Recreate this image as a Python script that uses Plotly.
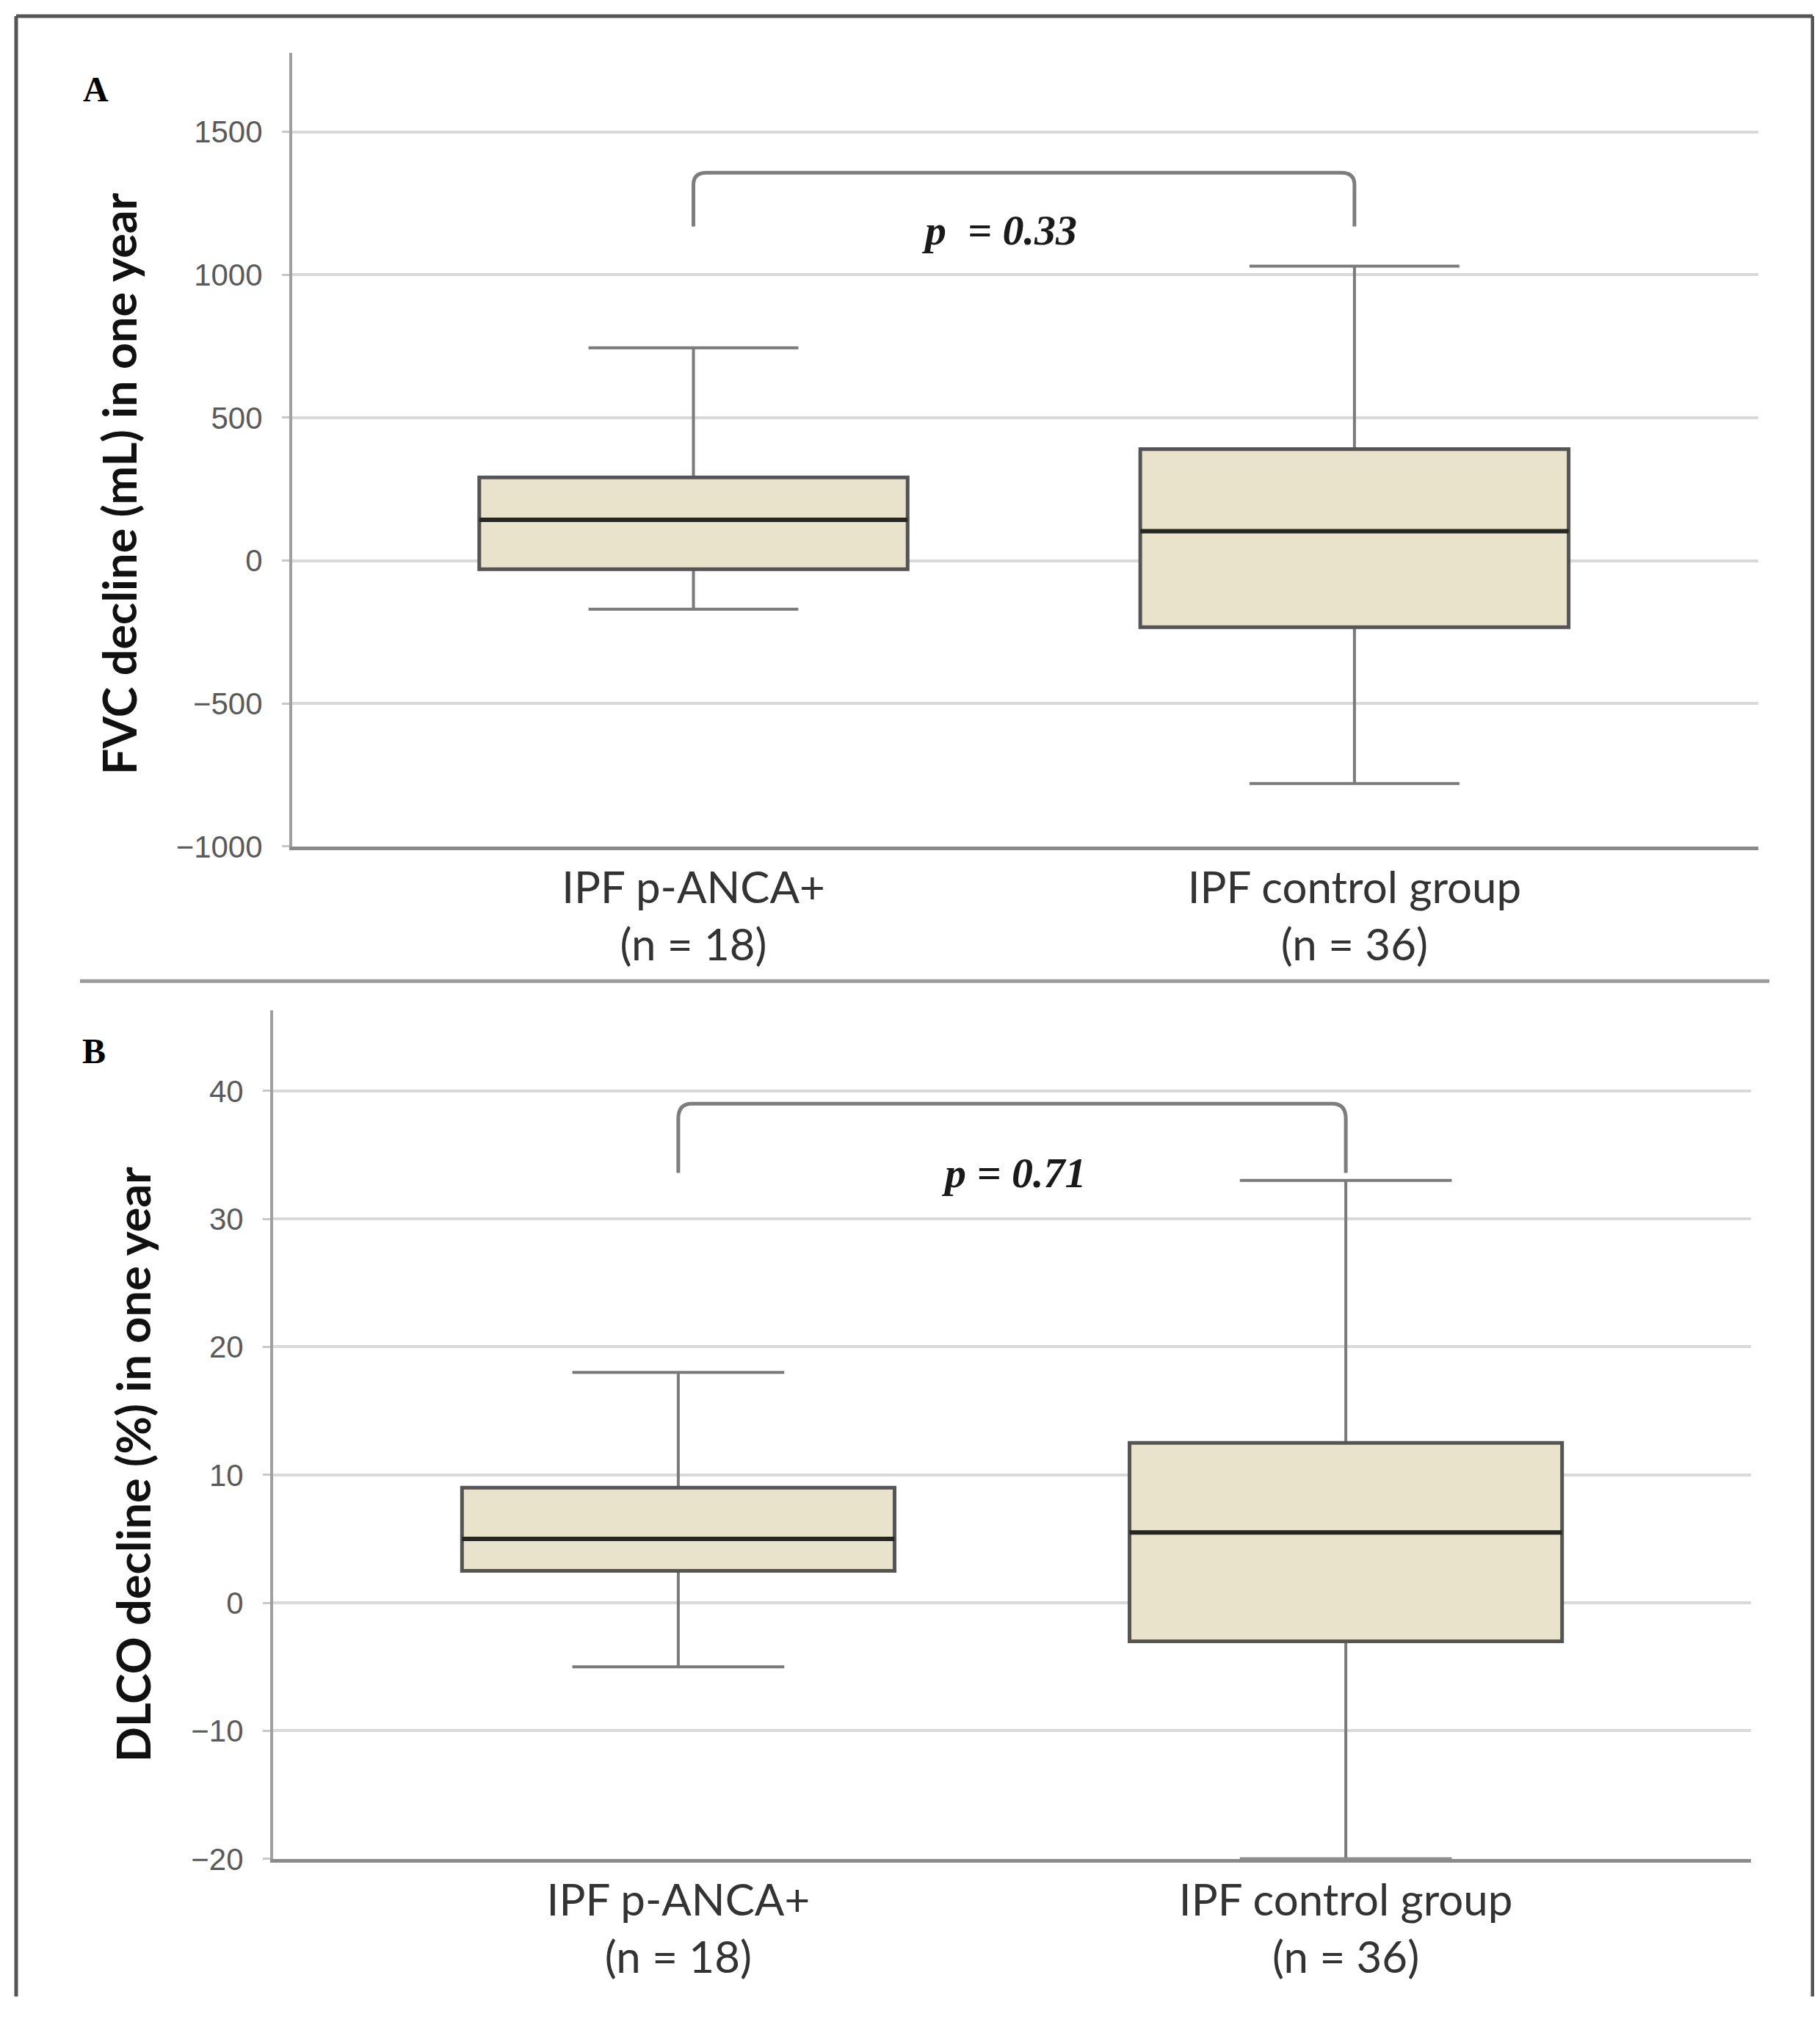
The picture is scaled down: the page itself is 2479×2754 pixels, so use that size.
import plotly.graph_objects as go

# ---------------- data ----------------
groups = ["IPF p-ANCA+<br>(n = 18)", "IPF control group<br>(n = 36)"]

fvc_lower = [-170, -780]
fvc_q1 = [-30, -233]
fvc_median = [143, 103]
fvc_q3 = [291, 390]
fvc_upper = [744, 1030]

dlco_lower = [-5, -20]
dlco_q1 = [2.5, -3]
dlco_median = [5, 5.5]
dlco_q3 = [9, 12.5]
dlco_upper = [18, 33]

p_values = ["p  = 0.33", "p = 0.71"]
bracket_top = [1357, 39.0]
bracket_end = [1169, 33.6]
panel_labels = ["A", "B"]
y_titles = ["FVC decline (mL) in one year", "DLCO decline (%) in one year"]

# ---------------- style ----------------
W, H = 2479, 2754
FILL = "#EAE3CC"
BOX_LINE = "#555555"
WHISK = "#7a7a7a"
MED = "#262622"
BOX_W = 0.648

fig = go.Figure()

panels = [
    dict(lo=fvc_lower, q1=fvc_q1, me=fvc_median, q3=fvc_q3, up=fvc_upper, xa="x", ya="y"),
    dict(lo=dlco_lower, q1=dlco_q1, me=dlco_median, q3=dlco_q3, up=dlco_upper, xa="x2", ya="y2"),
]

xs = list(range(len(groups)))
for p in panels:
    # whiskers + caps (gray)
    fig.add_trace(go.Box(
        x=xs, q1=p["q1"], median=p["me"], q3=p["q3"],
        lowerfence=p["lo"], upperfence=p["up"],
        width=BOX_W, whiskerwidth=0.49, fillcolor=FILL,
        line=dict(color=WHISK, width=4), boxpoints=False,
        xaxis=p["xa"], yaxis=p["ya"], showlegend=False, hoverinfo="skip",
    ))
    # box body (darker outline)
    fig.add_trace(go.Box(
        x=xs, q1=p["q1"], median=p["me"], q3=p["q3"],
        lowerfence=p["q1"], upperfence=p["q3"],
        width=BOX_W, whiskerwidth=0, fillcolor=FILL,
        line=dict(color=BOX_LINE, width=5), boxpoints=False,
        xaxis=p["xa"], yaxis=p["ya"], showlegend=False, hoverinfo="skip",
    ))
    # darker median lines
    for i, m in enumerate(p["me"]):
        fig.add_shape(type="line", xref=p["xa"], yref=p["ya"],
                      x0=i - BOX_W / 2, x1=i + BOX_W / 2, y0=m, y1=m,
                      line=dict(color=MED, width=6), layer="above")

# brackets
rx = 0.02
for k, p in enumerate(panels):
    top, end = bracket_top[k], bracket_end[k]
    ry = (top - end) * 0.22
    path = (f"M 0,{end} L 0,{top - ry} Q 0,{top} {rx},{top} "
            f"L {1 - rx},{top} Q 1,{top} 1,{top - ry} L 1,{end}")
    fig.add_shape(type="path", path=path, xref=p["xa"], yref=p["ya"],
                  line=dict(color="#7d7d7d", width=5), layer="above")

# p-value annotations
p_pos = [(0.463, 1156, "x", "y"), (0.503, 33.6, "x2", "y2")]
for txt, (x, y, xa, ya) in zip(p_values, p_pos):
    fig.add_annotation(x=x, y=y, xref=xa, yref=ya, text=f"<b><i>{txt}</i></b>",
                       showarrow=False, xanchor="center", yanchor="middle",
                       font=dict(family="Liberation Serif", size=58, color="#1a1a1a"))

# panel letters
for lab, (x, y) in zip(panel_labels, [(0.0496, 0.9586), (0.0483, 0.4786)]):
    fig.add_annotation(x=x, y=y, xref="paper", yref="paper", text=f"<b>{lab}</b>",
                       showarrow=False, xanchor="center", yanchor="middle",
                       font=dict(family="Liberation Serif", size=48, color="#000000"))

# y-axis titles
for t, (x, y) in zip(y_titles, [(0.0617, 0.7618), (0.0695, 0.2723)]):
    fig.add_annotation(x=x, y=y, xref="paper", yref="paper", text=f"<b>{t}</b>",
                       textangle=-90, showarrow=False, xanchor="center", yanchor="middle",
                       font=dict(family="Lato", size=63, color="#111111"))

# frame and separator
fx0, fx1 = 14 / W, 2461 / W
fy0, fy1 = 1 - 2735 / H, 1 - 14 / H
frame = dict(color="#555555", width=5)
fig.add_shape(type="line", xref="paper", yref="paper", x0=fx0, x1=fx0, y0=fy0, y1=fy1, line=frame)
fig.add_shape(type="line", xref="paper", yref="paper", x0=fx0, x1=fx1, y0=fy1, y1=fy1, line=frame)
fig.add_shape(type="line", xref="paper", yref="paper", x0=fx1, x1=fx1, y0=fy0, y1=fy1, line=frame)
sep_y = 1 - 1340 / H
fig.add_shape(type="line", xref="paper", yref="paper", x0=101 / W, x1=2402 / W,
              y0=sep_y, y1=sep_y, line=dict(color="#9a9a9a", width=5))

xtick_font = dict(family="Lato", size=60, color="#333333")
ytick_font = dict(family="Liberation Sans", size=42, color="#5a5a5a")

common_x = dict(tickmode="array", tickvals=xs, ticktext=groups, tickfont=xtick_font,
                showgrid=False, zeroline=False, showline=True, linecolor="#8a8a8a",
                linewidth=5, ticks="", ticklabelstandoff=0, fixedrange=True)
common_y = dict(showgrid=True, gridcolor="#d9d9d9", gridwidth=4, zeroline=False,
                showline=True, linecolor="#a0a0a0", linewidth=4, ticks="outside",
                ticklen=10, tickcolor="#c8c8c8", tickwidth=3, tickfont=ytick_font,
                ticklabelstandoff=18, fixedrange=True)

fig.update_layout(
    width=W, height=H,
    margin=dict(l=0, r=0, t=0, b=0),
    paper_bgcolor="white", plot_bgcolor="white",
    showlegend=False, boxmode="overlay",
    xaxis=dict(domain=[390 / W, 2387 / W], range=[-0.607, 1.611], anchor="y", **common_x),
    yaxis=dict(domain=[1 - 1155 / H, 1 - 65 / H], range=[-1000, 1775], anchor="x",
               tickvals=[-1000, -500, 0, 500, 1000, 1500], **common_y),
    xaxis2=dict(domain=[364 / W, 2377 / W], range=[-0.607, 1.607], anchor="y2", **common_x),
    yaxis2=dict(domain=[1 - 2546 / H, 1 - 1380 / H], range=[-20, 46.3], anchor="x2",
                tickvals=[-20, -10, 0, 10, 20, 30, 40], **common_y),
)

fig.write_html("out.html")
